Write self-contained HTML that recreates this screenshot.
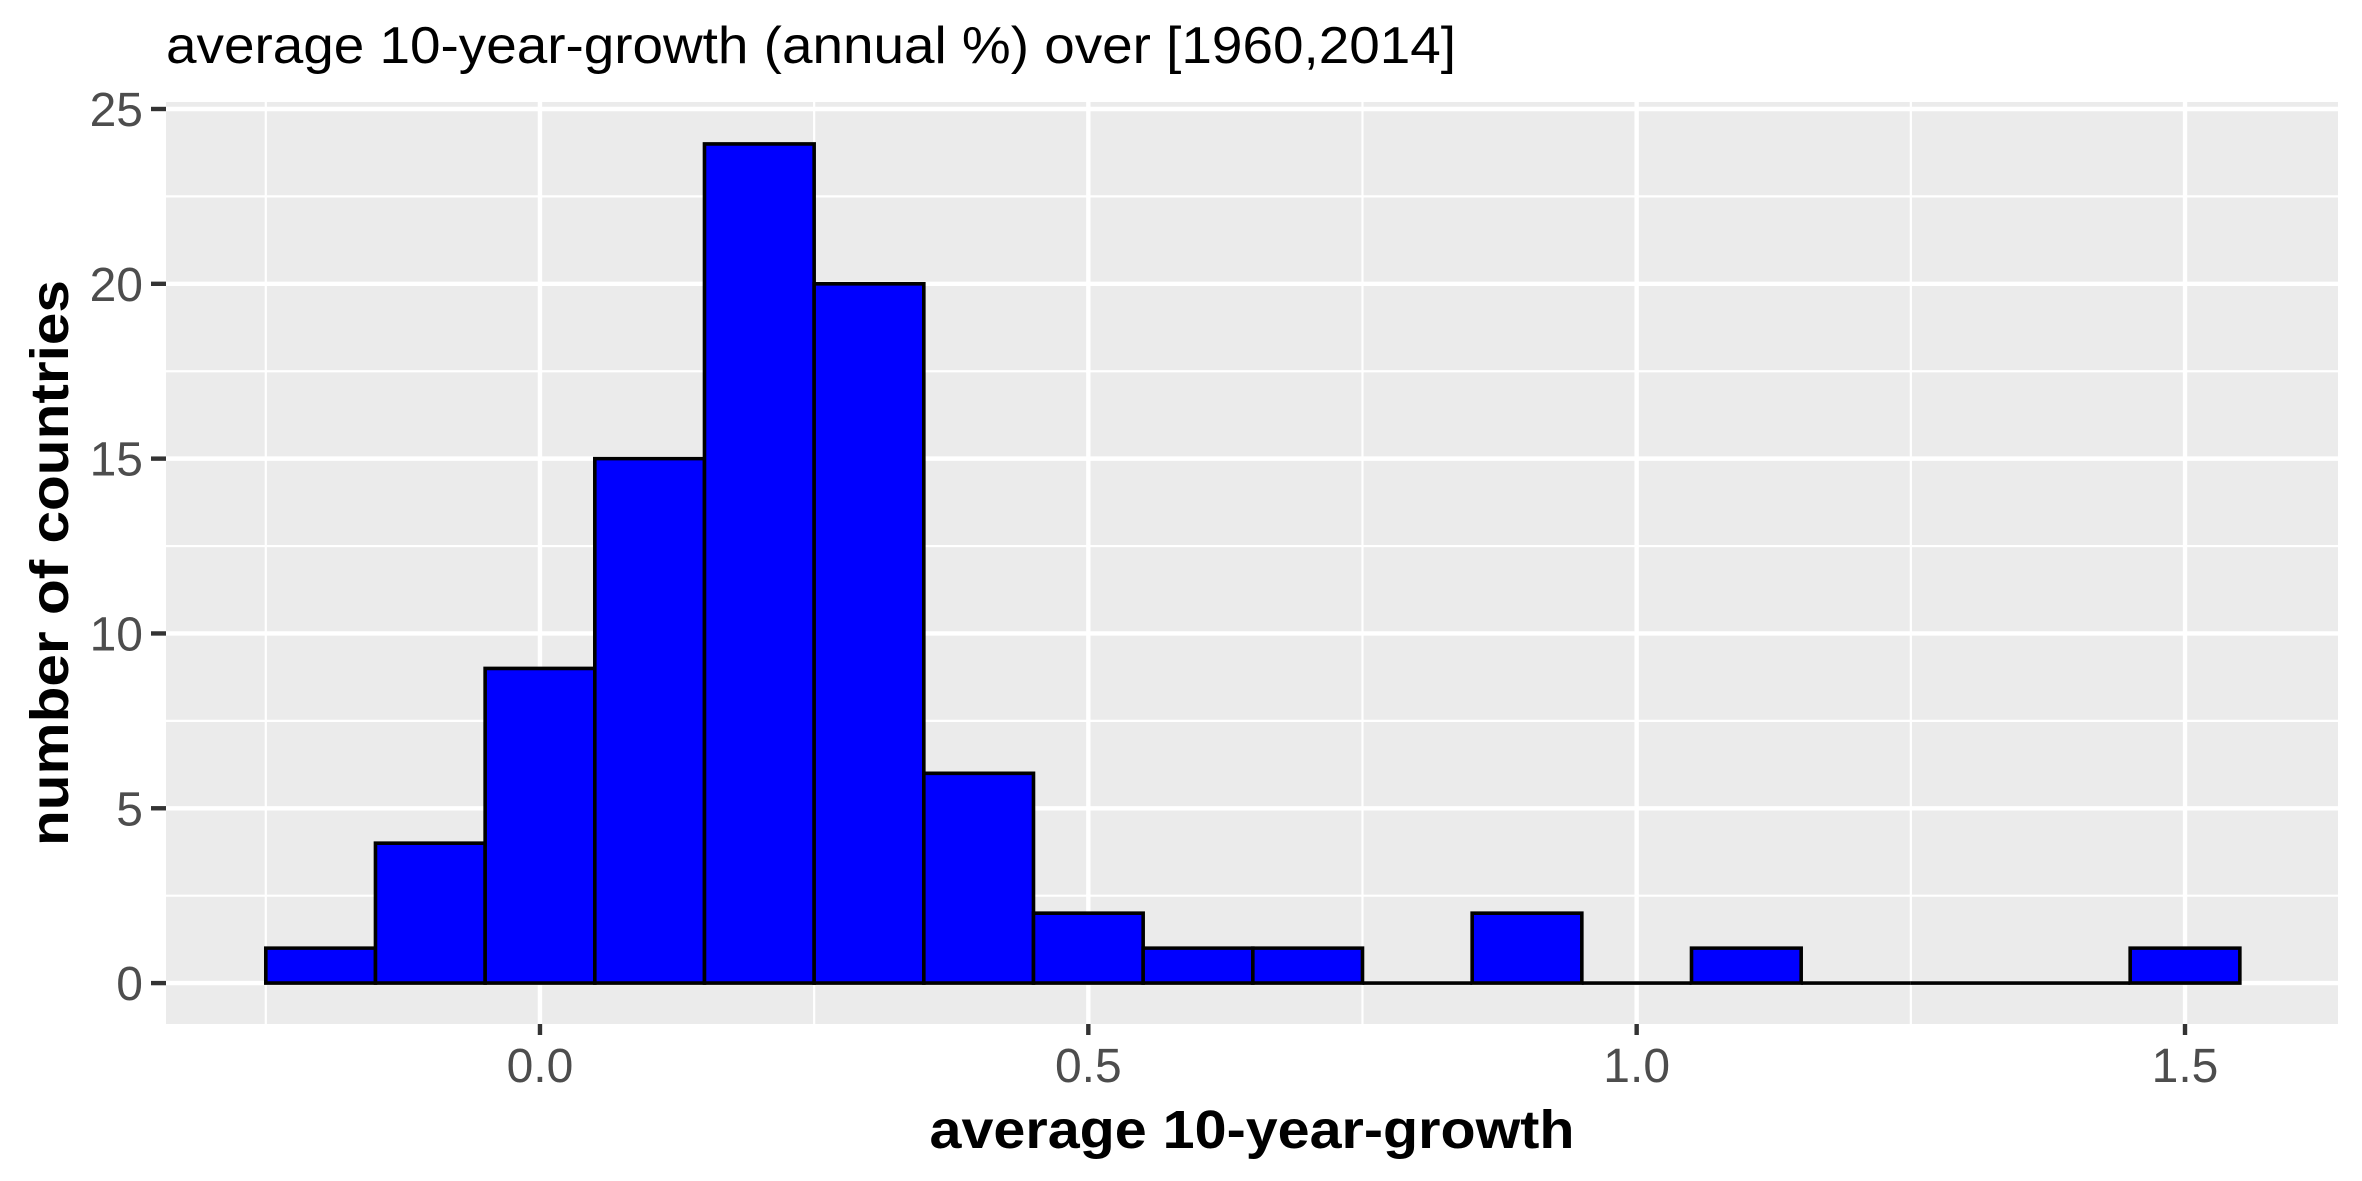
<!DOCTYPE html>
<html><head><meta charset="utf-8"><style>
html,body{margin:0;padding:0;background:#fff;}
svg{display:block;font-family:"Liberation Sans",Arial,sans-serif;}
</style></head><body>
<svg id="chart" width="2362" height="1181" viewBox="0 0 2362 1181">
<rect width="2362" height="1181" fill="#fff"/>
<text x="166" y="63" font-size="52" fill="#000" textLength="1290" lengthAdjust="spacingAndGlyphs">average 10-year-growth (annual %) over [1960,2014]</text>
<rect x="166" y="102" width="2172" height="922" fill="#ebebeb"/>
<g id="grid"></g>
<g id="bars"></g>
<g id="axes"></g>
<text x="1252" y="1148" font-size="54" font-weight="bold" text-anchor="middle" textLength="645" lengthAdjust="spacingAndGlyphs">average 10-year-growth</text>
<text transform="translate(68,563) rotate(-90)" font-size="54" font-weight="bold" text-anchor="middle" textLength="566" lengthAdjust="spacingAndGlyphs">number of countries</text>
</svg>
<script>
const binCenters = [-0.2,-0.1,0.0,0.1,0.2,0.3,0.4,0.5,0.6,0.7,0.8,0.9,1.0,1.1,1.2,1.3,1.4,1.5];
const counts = [1,4,9,15,24,20,6,2,1,1,0,2,0,1,0,0,0,1];
const binWidth = 0.1;
const xTicks = [0.0,0.5,1.0,1.5];
const xTickLabels = ["0.0","0.5","1.0","1.5"];
const yTicks = [0,5,10,15,20,25];
const yTickLabels = ["0","5","10","15","20","25"];

const NS = "http://www.w3.org/2000/svg";
const px0 = 166, px1 = 2338, py0 = 102, py1 = 1024;
const xDomain = [-0.3410, 1.6395];
const yDomain = [-1.17, 25.2];
function xs(v){ return px0 + (v - xDomain[0]) / (xDomain[1] - xDomain[0]) * (px1 - px0); }
function ys(v){ return py1 - (v - yDomain[0]) / (yDomain[1] - yDomain[0]) * (py1 - py0); }
function mk(tag, attrs, parent){ const e = document.createElementNS(NS, tag); for (const k in attrs) e.setAttribute(k, attrs[k]); parent.appendChild(e); return e; }

const grid = document.getElementById('grid');
const bars = document.getElementById('bars');
const axes = document.getElementById('axes');

for (let i = 0; i < yTicks.length - 1; i++) {
  const y = ys((yTicks[i] + yTicks[i+1]) / 2);
  const l = mk('line', {x1:px0, x2:px1, y1:y, y2:y, stroke:'#fff', 'stroke-width':2.2}, grid);
  
  
}
const xMinor = [xTicks[0] - 0.25].concat(xTicks.slice(0, -1).map((t, i) => (t + xTicks[i+1]) / 2));
xMinor.forEach(v => {
  const x = xs(v);
  const l = mk('line', {x1:x, x2:x, y1:py0, y2:py1, stroke:'#fff', 'stroke-width':2.2}, grid);
  
  
});
yTicks.forEach((v, i) => {
  const y = ys(v);
  const l = mk('line', {x1:px0, x2:px1, y1:y, y2:y, stroke:'#fff', 'stroke-width':4.4}, grid);
  
  
  const t = mk('line', {x1:151, x2:166, y1:y, y2:y, stroke:'#333', 'stroke-width':4.4}, axes);
  
  
  const tx = mk('text', {x:143, y:y + 17, 'font-size':48, fill:'#4d4d4d', 'text-anchor':'end'}, axes);
  tx.textContent = yTickLabels[i];
  
  
});
xTicks.forEach((v, i) => {
  const x = xs(v);
  const l = mk('line', {x1:x, x2:x, y1:py0, y2:py1, stroke:'#fff', 'stroke-width':4.4}, grid);
  
  
  const t = mk('line', {x1:x, x2:x, y1:1024, y2:1035, stroke:'#333', 'stroke-width':4.4}, axes);
  
  
  const tx = mk('text', {x:x, y:1082, 'font-size':48, fill:'#4d4d4d', 'text-anchor':'middle'}, axes);
  tx.textContent = xTickLabels[i];
  
  
});
binCenters.forEach((c, i) => {
  const xa = xs(c - binWidth / 2), xb = xs(c + binWidth / 2);
  const yt = ys(counts[i]), yb = ys(0);
  const d = 'M' + xa + ',' + yb + 'L' + xa + ',' + yt + 'L' + xb + ',' + yt + 'L' + xb + ',' + yb + 'Z';
  const r = mk('path', {d:d, fill:'#0000ff', stroke:'#000', 'stroke-width':3.6, 'stroke-linejoin':'miter'}, bars);
  
  
});
</script>
</body></html>
